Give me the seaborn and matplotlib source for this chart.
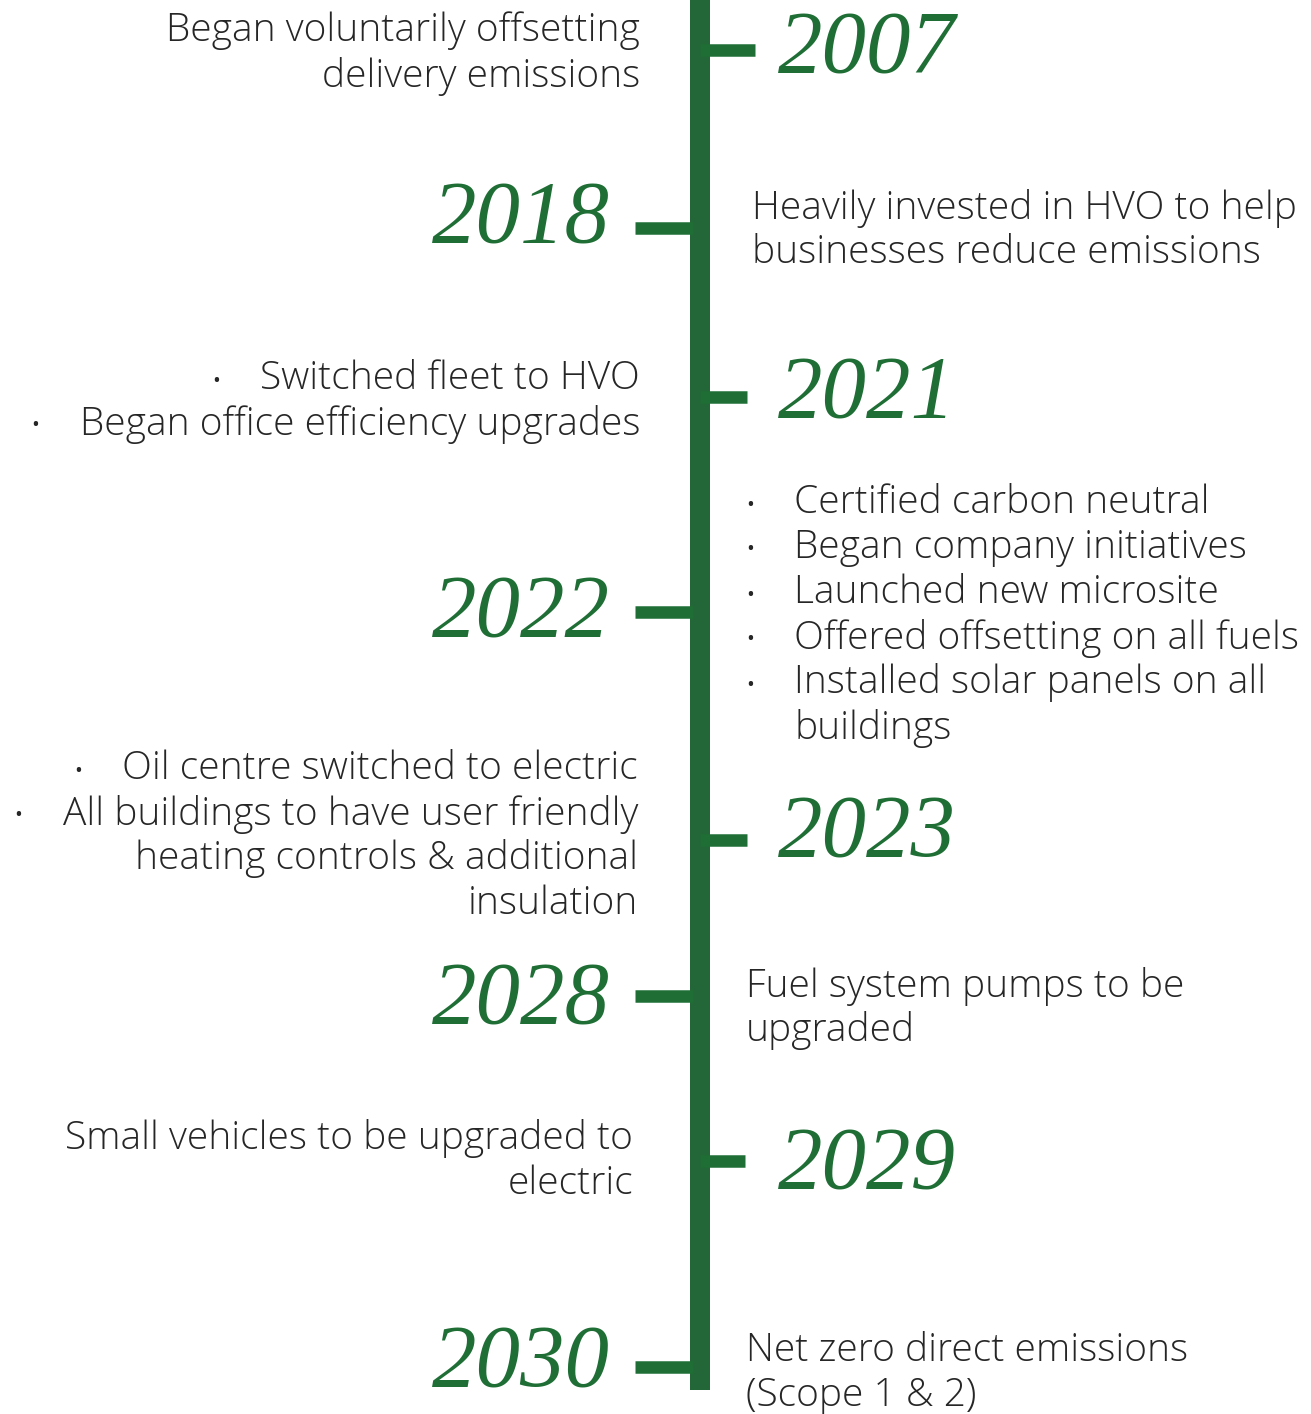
import matplotlib
matplotlib.use("Agg")
import matplotlib.pyplot as plt
import seaborn as sns

# ---------------- DATA ----------------
years = ["2007", "2018", "2021", "2022", "2023", "2028", "2029", "2030"]
year_side = ["right", "left", "right", "left", "right", "left", "right", "left"]

notes = [
    ["Began voluntarily offsetting", "delivery emissions"],
    ["Heavily invested in HVO to help", "businesses reduce emissions"],
    ["Switched fleet to HVO", "Began office efficiency upgrades"],
    ["Certified carbon neutral", "Began company initiatives", "Launched new microsite",
     "Offered offsetting on all fuels", "Installed solar panels on all", "buildings"],
    ["Oil centre switched to electric", "All buildings to have user friendly",
     "heating controls & additional", "insulation"],
    ["Fuel system pumps to be", "upgraded"],
    ["Small vehicles to be upgraded to", "electric"],
    ["Net zero direct emissions", "(Scope 1 & 2)"],
]
# which lines start with a bullet
bullets = [
    [False, False],
    [False, False],
    [True, True],
    [True, True, True, True, True, False],
    [True, True, False, False],
    [False, False],
    [False, False],
    [False, False],
]

# ---------------- LAYOUT ----------------
W, H = 1311, 1414
tick_y = [50, 228, 397, 612, 840, 996, 1161, 1367]
year_y = [50, 220, 395, 614, 834, 1001, 1166, 1364]
tick_len = [45, 55, 37, 55, 37, 55, 35, 55]
note_top = [31, 208, 379, 503, 769, 986, 1139, 1351]
note_x = [640, 752, 640, 794, 638, 746, 633, 746]
line_gap = 45
bar_x0, bar_x1 = 690, 710
bar_end = 1390

BAR = "#236638"
GREEN = "#1f6e35"
TEXT = "#262626"
FS = 28

sns.set_theme(style="white")
plt.rcParams["font.family"] = ["Open Sans", "DejaVu Sans"]

fig = plt.figure(figsize=(W / 100, H / 100), dpi=100)
ax = fig.add_axes([0, 0, 1, 1])
ax.set_xlim(0, W)
ax.set_ylim(H, 0)
ax.axis("off")

# spine of the timeline
ax.fill_between([bar_x0, bar_x1], 0, bar_end, color=BAR, lw=0)

fig.canvas.draw()
renderer = fig.canvas.get_renderer()
inv = ax.transData.inverted()

for i, yr in enumerate(years):
    ty = tick_y[i]
    if year_side[i] == "right":
        ax.hlines(ty, bar_x1 - 10, bar_x1 + tick_len[i], color=GREEN, lw=9, capstyle="butt")
        ax.text(778, year_y[i], yr, ha="left", va="center", fontsize=64,
                family="Liberation Serif", style="italic", color=GREEN)
        notes_left = True
    else:
        ax.hlines(ty, bar_x0 - tick_len[i], bar_x0 + 3, color=GREEN, lw=9, capstyle="butt")
        ax.text(610, year_y[i], yr, ha="right", va="center", fontsize=64,
                family="Liberation Serif", style="italic", color=GREEN)
        notes_left = False

    for j, line in enumerate(notes[i]):
        y = note_top[i] + j * line_gap
        if notes_left:
            t = ax.text(note_x[i], y, line, ha="right", va="center", fontsize=FS,
                        fontweight="light", color=TEXT)
            if bullets[i][j]:
                bb = t.get_window_extent(renderer)
                x_left = inv.transform((bb.x0, bb.y0))[0]
                ax.text(x_left - 44, y + 2, "•", ha="center", va="center", fontsize=15, color=TEXT)
        else:
            ax.text(note_x[i], y, line, ha="left", va="center", fontsize=FS,
                    fontweight="light", color=TEXT)
            if bullets[i][j]:
                ax.text(750, y + 2, "•", ha="center", va="center", fontsize=15, color=TEXT)

fig.savefig("out.png", dpi=100, facecolor="white")
plt.close(fig)
